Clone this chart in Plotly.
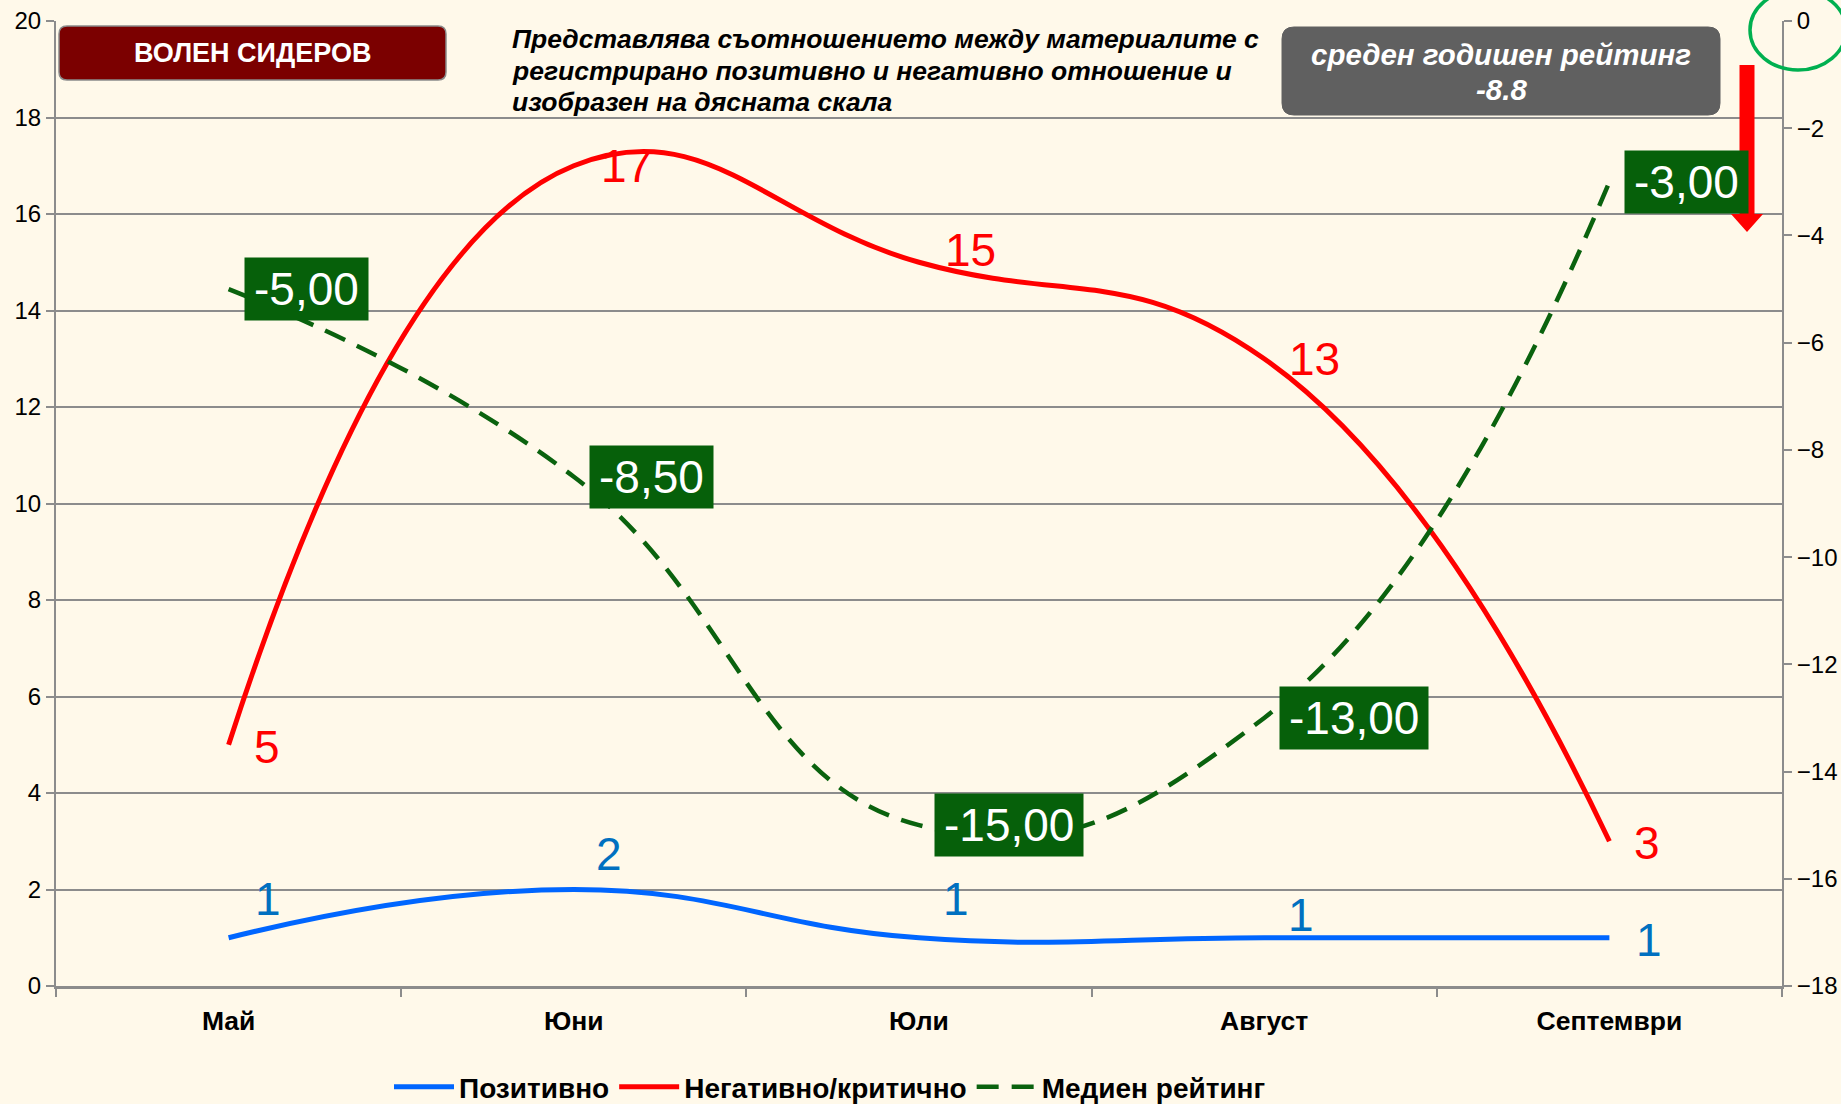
import plotly.graph_objects as go

# ---------------- data ----------------
months = ["Май", "Юни", "Юли", "Август", "Септември"]
positive = [1, 2, 1, 1, 1]
negative = [5, 17, 15, 13, 3]
median_rating = [-5.0, -8.5, -15.0, -13.0, -3.0]
median_labels = ["-5,00", "-8,50", "-15,00", "-13,00", "-3,00"]
annual_rating = "-8.8"
person = "ВОЛЕН СИДЕРОВ"
note_lines = ["Представлява съотношението между материалите с",
              "регистрирано позитивно и негативно отношение и",
              "изобразен на дясната скала"]

# ---------------- styling / geometry ----------------
W, H = 1841, 1104
L, R, T, B = 56, 1782, 21, 986          # plot area in pixels
FONT = "Liberation Sans, Arial, sans-serif"
BG = "#FFF9EA"
GRID = "#8C8C8C"
BLUE = "#0066FF"
BLUE_LBL = "#0070C0"
RED = "#FF0000"
GREEN = "#0A620E"
BOXGREEN = "#06600A"
LBL_SIZE = 46
SMOOTH = 1.3


def px(x):
    return (x - L) / (R - L)


def py(y):
    return (B - y) / (B - T)


def text_width(s, size):
    w = {"-": 0.333, ",": 0.278, ".": 0.278}
    return sum(w.get(c, 0.556) for c in s) * size


fig = go.Figure()

fig.add_trace(go.Scatter(x=months, y=positive, name="Позитивно", mode="lines",
                         line=dict(color=BLUE, width=5, shape="spline", smoothing=SMOOTH),
                         yaxis="y"))
fig.add_trace(go.Scatter(x=months, y=negative, name="Негативно/критично", mode="lines",
                         line=dict(color=RED, width=5, shape="spline", smoothing=SMOOTH),
                         yaxis="y"))
fig.add_trace(go.Scatter(x=months, y=median_rating, name="Медиен рейтинг", mode="lines",
                         line=dict(color=GREEN, width=4.5, shape="spline", smoothing=SMOOTH,
                                   dash="22px,13px"),
                         yaxis="y2"))

# ---------------- data labels ----------------
pos_off = [(24, 39), (20, 36), (22, 39), (22, 23), (25, -2)]
for m, v, (dx, dy) in zip(months, positive, pos_off):
    fig.add_annotation(x=m, y=v, xref="x", yref="y", text=str(v), showarrow=False,
                       xanchor="left", yanchor="middle", xshift=dx, yshift=dy,
                       font=dict(family=FONT, size=LBL_SIZE, color=BLUE_LBL))

neg_off = [(23, -2), (25, 0), (24, 12), (23, 0), (23, -2)]
for m, v, (dx, dy) in zip(months, negative, neg_off):
    fig.add_annotation(x=m, y=v, xref="x", yref="y", text=str(v), showarrow=False,
                       xanchor="left", yanchor="middle", xshift=dx, yshift=dy,
                       font=dict(family=FONT, size=LBL_SIZE, color=RED))

for m, v, t in zip(months, median_rating, median_labels):
    fig.add_annotation(x=m, y=v, xref="x", yref="y2", text=t, showarrow=False,
                       xanchor="left", yanchor="middle", xshift=15, yshift=0,
                       width=text_width(t, LBL_SIZE) + 18, height=62, align="center",
                       valign="middle", bgcolor=BOXGREEN, borderpad=0,
                       font=dict(family=FONT, size=LBL_SIZE, color="white"))


def rounded_rect(x0, y0, x1, y1, r):
    X0, X1 = px(x0), px(x1)
    Y0, Y1 = py(y0), py(y1)
    rx = r / (R - L)
    ry = r / (B - T)
    return (f"M{X0 + rx},{Y0} L{X1 - rx},{Y0} Q{X1},{Y0} {X1},{Y0 - ry} "
            f"L{X1},{Y1 + ry} Q{X1},{Y1} {X1 - rx},{Y1} L{X0 + rx},{Y1} "
            f"Q{X0},{Y1} {X0},{Y1 + ry} L{X0},{Y0 - ry} Q{X0},{Y0} {X0 + rx},{Y0} Z")


shapes = []
shapes.append(dict(type="path", xref="paper", yref="paper",
                   path=rounded_rect(59, 26, 446, 80, 8),
                   fillcolor="#7B0000", line=dict(color="#8A8A8A", width=1.5), layer="above"))
shapes.append(dict(type="path", xref="paper", yref="paper",
                   path=rounded_rect(1282, 27, 1720, 115, 12),
                   fillcolor="#606060", line=dict(color="#606060", width=1), layer="above"))
shapes.append(dict(type="circle", xref="paper", yref="paper",
                   x0=px(1750), x1=px(1846), y0=py(70), y1=py(-10),
                   line=dict(color="#00B050", width=3.5), fillcolor="rgba(0,0,0,0)",
                   layer="above"))
ax, sw, hw = 1747, 7.5, 16
shapes.append(dict(type="path", xref="paper", yref="paper",
                   path=(f"M{px(ax - sw)},{py(65)} L{px(ax + sw)},{py(65)} "
                         f"L{px(ax + sw)},{py(214)} L{px(ax + hw)},{py(214)} "
                         f"L{px(ax)},{py(232)} L{px(ax - hw)},{py(214)} "
                         f"L{px(ax - sw)},{py(214)} Z"),
                   fillcolor=RED, line=dict(color=RED, width=0), layer="above"))
fig.update_layout(shapes=shapes)

fig.add_annotation(x=px(252), y=py(53), xref="paper", yref="paper", text=f"<b>{person}</b>",
                   showarrow=False, xanchor="center", yanchor="middle",
                   font=dict(family=FONT, size=27, color="white"))

for i, line in enumerate(note_lines):
    fig.add_annotation(x=px(510), y=py(39 + 31.5 * i), xref="paper", yref="paper",
                       text=f"<b><i>{line}</i></b>", showarrow=False,
                       xanchor="left", yanchor="middle",
                       font=dict(family=FONT, size=26.5, color="black"))

fig.add_annotation(x=px(1501), y=py(55), xref="paper", yref="paper",
                   text="<b><i>среден годишен рейтинг</i></b>", showarrow=False,
                   xanchor="center", yanchor="middle",
                   font=dict(family=FONT, size=29.5, color="white"))
fig.add_annotation(x=px(1501), y=py(89), xref="paper", yref="paper",
                   text=f"<b><i>{annual_rating}</i></b>", showarrow=False,
                   xanchor="center", yanchor="middle",
                   font=dict(family=FONT, size=29.5, color="white"))

fig.update_layout(
    width=W, height=H,
    margin=dict(l=L, r=W - R, t=T, b=H - B, autoexpand=False),
    paper_bgcolor=BG, plot_bgcolor=BG,
    font=dict(family=FONT, color="black"),
    showlegend=True,
    legend=dict(orientation="h", xref="container", yref="container",
                x=830 / W, y=(H - 1087) / H,
                xanchor="center", yanchor="middle",
                font=dict(family=FONT, size=28, color="black", weight="bold"),
                bgcolor="rgba(0,0,0,0)", itemwidth=60, tracegroupgap=0),
    xaxis=dict(type="category", range=[-0.5, 4.5], tickson="boundaries",
               ticks="outside", ticklen=8, tickwidth=1.5, tickcolor=GRID,
               showline=True, linecolor=GRID, linewidth=3,
               showgrid=False, zeroline=False, ticklabelstandoff=9, automargin=False,
               tickfont=dict(family=FONT, size=26.5, color="black", weight="bold")),
    yaxis=dict(range=[0, 20], dtick=2, tick0=0, showgrid=True, gridcolor=GRID, gridwidth=2,
               ticks="outside", ticklen=8, tickwidth=1.5, tickcolor=GRID,
               showline=True, linecolor=GRID, linewidth=2, zeroline=False, automargin=False,
               tickfont=dict(family=FONT, size=24, color="black")),
    yaxis2=dict(range=[-18, 0], dtick=2, tick0=0, overlaying="y", side="right",
                showgrid=False, zeroline=False, automargin=False,
                ticks="outside", ticklen=8, tickwidth=1.5, tickcolor=GRID,
                showline=True, linecolor=GRID, linewidth=2,
                tickfont=dict(family=FONT, size=24, color="black")),
)

fig.write_html("out.html", config={"displayModeBar": False},
               post_script="document.body.style.margin='0';"
                           "document.body.style.overflow='hidden';"
                           "document.documentElement.style.overflow='hidden';")
